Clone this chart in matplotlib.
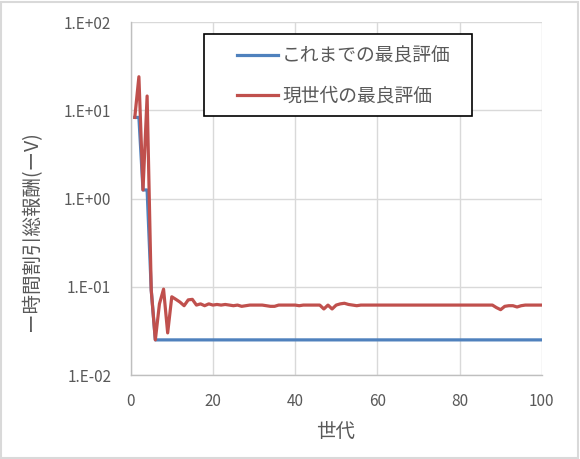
import numpy as np
import matplotlib
matplotlib.use("Agg")
import matplotlib.pyplot as plt
from matplotlib.patches import Rectangle

plt.rcParams['font.family'] = ['Noto Sans CJK JP', 'DejaVu Sans']

generations = list(range(1, 101))

# 現世代の最良評価
current_best = [
    8.3, 24.0, 1.25, 14.5, 0.092, 0.025, 0.064, 0.094, 0.030, 0.077,
    0.072, 0.067, 0.061, 0.071, 0.072, 0.062, 0.064, 0.061, 0.064, 0.062,
    0.063, 0.062, 0.063, 0.062, 0.061, 0.062, 0.060, 0.061, 0.062, 0.062,
    0.062, 0.062, 0.061, 0.060, 0.060, 0.062, 0.062, 0.062, 0.062, 0.062,
    0.061, 0.062, 0.062, 0.062, 0.062, 0.062, 0.056, 0.062, 0.056, 0.062,
    0.064, 0.065, 0.063, 0.062, 0.061, 0.062, 0.062, 0.062, 0.062, 0.062,
    0.062, 0.062, 0.062, 0.062, 0.062, 0.062, 0.062, 0.062, 0.062, 0.062,
    0.062, 0.062, 0.062, 0.062, 0.062, 0.062, 0.062, 0.062, 0.062, 0.062,
    0.062, 0.062, 0.062, 0.062, 0.062, 0.062, 0.062, 0.062, 0.058, 0.055,
    0.060, 0.061, 0.061, 0.059, 0.061, 0.062, 0.062, 0.062, 0.062, 0.062,
]

# これまでの最良評価
best_so_far = [8.3, 8.3, 1.25, 1.25, 0.092] + [0.025] * 95

y_ticks = [1e-2, 1e-1, 1e0, 1e1, 1e2]
y_tick_labels = ['1.E-02', '1.E-01', '1.E+00', '1.E+01', '1.E+02']
x_ticks = [0, 20, 40, 60, 80, 100]

label_best = 'これまでの最良評価'
label_current = '現世代の最良評価'

W, H = 580, 459
fig = plt.figure(figsize=(W / 100, H / 100), dpi=100)
fig.patches.append(Rectangle((0.002, 0.003), 0.994, 0.993, transform=fig.transFigure,
                             fill=False, edgecolor='#d9d9d9', linewidth=1.5))

ax = fig.add_axes([0.2253, 0.183, 0.7087, 0.769])
ax.plot(generations, best_so_far, color='#4F81BD', linewidth=2.3, label=label_best)
ax.plot(generations, current_best, color='#C0504D', linewidth=2.3, label=label_current)

ax.set_yscale('log')
ax.set_ylim(1e-2, 1e2)
ax.set_xlim(0, 100)
ax.set_yticks(y_ticks)
ax.set_yticklabels(y_tick_labels)
ax.minorticks_off()
ax.set_xticks(x_ticks)

ax.grid(True, color='#d9d9d9', linewidth=1)
ax.set_axisbelow(True)
for side in ['top', 'right']:
    ax.spines[side].set_visible(False)
for side in ['left', 'bottom']:
    ax.spines[side].set_color('#bfbfbf')
    ax.spines[side].set_linewidth(1)
ax.tick_params(length=0, labelsize=11, labelcolor='#595959')
ax.tick_params(axis='y', pad=14)
ax.tick_params(axis='x', pad=13)

fig.text(0.055, 0.497, 'ー時間割引総報酬(ーV)', rotation=90, ha='center', va='center',
         fontsize=14, color='#595959')
fig.text(0.578, 0.059, '世代', ha='center', va='center', fontsize=14, color='#595959')

# legend frame like the Excel box (white, black border)
ax.add_patch(Rectangle((204 / W, 1 - 116 / H), (472 - 204) / W, (116 - 34) / H,
                       transform=fig.transFigure, facecolor='white', edgecolor='black',
                       linewidth=1.2, zorder=4, clip_on=False))
leg = ax.legend(loc='center left', bbox_to_anchor=(237 / W, 1 - 76 / H),
                bbox_transform=fig.transFigure, fontsize=13.5, frameon=False,
                handlelength=2.2, handletextpad=0.2, labelspacing=1.0,
                borderpad=0, borderaxespad=0)
leg.set_zorder(5)
for t in leg.get_texts():
    t.set_color('#595959')

fig.savefig('out.png', dpi=100)
